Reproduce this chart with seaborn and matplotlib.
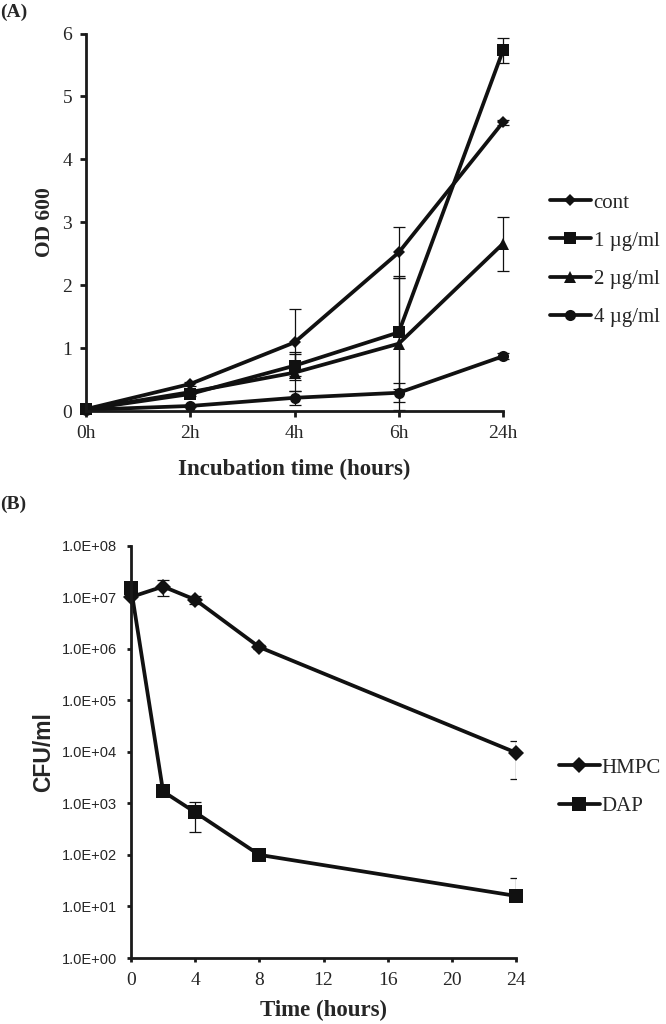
import numpy as np
import pandas as pd
import matplotlib
matplotlib.use("Agg")
import matplotlib.pyplot as plt
import seaborn as sns

# ---------------- data: panel A ----------------
time_labels_a = ["0h", "2h", "4h", "6h", "24h"]
series_a = ["cont", "1 \u00b5g/ml", "2 \u00b5g/ml", "4 \u00b5g/ml"]
od_cont = [0.03, 0.43, 1.09, 2.52, 4.59]
od_1 = [0.03, 0.27, 0.72, 1.25, 5.73]
od_2 = [0.03, 0.30, 0.61, 1.07, 2.66]
od_4 = [0.02, 0.08, 0.21, 0.29, 0.87]
err_cont = [0.01, 0.03, 0.53, 0.40, 0.04]
err_1 = [0.01, 0.03, 0.22, 0.90, 0.20]
err_2 = [0.01, 0.03, 0.30, 1.05, 0.43]
err_4 = [0.01, 0.02, 0.11, 0.15, 0.05]

# ---------------- data: panel B ----------------
time_b = [0, 2, 4, 8, 24]
series_b = ["HMPC", "DAP"]
cfu_hmpc = [1.0e7, 1.6e7, 8.9e6, 1.07e6, 9.6e3]
cfu_dap = [1.5e7, 1.7e3, 6.7e2, 1.0e2, 1.6e1]
err_hmpc_lo = [0.0, 5.5e6, 1.5e6, 1.0e5, 6.6e3]
err_hmpc_hi = [0.0, 5.5e6, 1.5e6, 1.0e5, 6.6e3]
err_dap_lo = [0.0, 1.0e2, 3.9e2, 5.0, 0.0]
err_dap_hi = [0.0, 1.0e2, 3.9e2, 5.0, 1.9e1]
ytick_b = [1e0, 1e1, 1e2, 1e3, 1e4, 1e5, 1e6, 1e7, 1e8]
ytick_b_labels = ["1.0E+00", "1.0E+01", "1.0E+02", "1.0E+03", "1.0E+04",
                  "1.0E+05", "1.0E+06", "1.0E+07", "1.0E+08"]
xtick_b = [0, 4, 8, 12, 16, 20, 24]

sns.set_style("ticks")
plt.rcParams["font.family"] = ["Liberation Serif", "DejaVu Serif"]
plt.rcParams["mathtext.fontset"] = "stix"

SERIF = ["Liberation Serif", "DejaVu Serif"]
SANS = ["Liberation Sans", "DejaVu Sans"]

fig = plt.figure(figsize=(6.66, 10.24), dpi=100)
W, H = 666, 1024

def add_axes_px(l, t, r, b):
    return fig.add_axes([l / W, 1 - b / H, (r - l) / W, (b - t) / H])

LW = 2.7
SPW = 2.0

def style_axes(ax):
    sns.despine(ax=ax)
    for s in ["left", "bottom"]:
        ax.spines[s].set_linewidth(SPW)
        ax.spines[s].set_color("#1a1a1a")
    ax.tick_params(direction="out", width=SPW, length=4, color="#1a1a1a")

# ================= Panel A =================
axA = add_axes_px(86, 33.5, 503, 411)
pos_a = np.arange(len(time_labels_a))
vals_a = [od_cont, od_1, od_2, od_4]
errs_a = [err_cont, err_1, err_2, err_4]
markers_a = ["D", "s", "^", "o"]
msizes_a = [6.5, 8.5, 8.5, 8]
handles_a = []
for name, v, e, m, ms in zip(series_a, vals_a, errs_a, markers_a, msizes_a):
    df = pd.DataFrame({"t": pos_a, "v": v})
    sns.lineplot(data=df, x="t", y="v", ax=axA, color="#111111", lw=LW,
                 marker=m, markersize=ms, markeredgewidth=0, label=name,
                 clip_on=False, legend=False)
    axA.errorbar(pos_a, v, yerr=e, fmt="none", ecolor="#111111",
                 elinewidth=0.9, capsize=4.5, capthick=0.9, clip_on=False)
    handles_a.append(plt.Line2D([], [], color="#111111", lw=LW, marker=m,
                                markersize=ms, markeredgewidth=0))
axA.set_xlim(0, len(time_labels_a) - 1)
axA.set_ylim(0, 6)
axA.set_xticks(pos_a)
axA.set_xticklabels(time_labels_a, fontsize=14, family=SERIF)
axA.set_yticks(range(0, 7))
axA.set_yticklabels([str(i) for i in range(0, 7)], fontsize=14, family=SERIF)
style_axes(axA)
axA.tick_params(axis="both", pad=6)
axA.set_xlabel("Incubation time (hours)", fontsize=16.5, fontweight="bold",
               family=SERIF, labelpad=12)
axA.set_ylabel("OD 600", fontsize=15.5, fontweight="bold", family=SERIF,
               labelpad=5)
fig.legend(handles_a, series_a, loc="center left",
           bbox_to_anchor=(550 / W, 1 - 260 / H), bbox_transform=fig.transFigure,
           frameon=False, prop={"family": SERIF, "size": 15},
           handlelength=1.95, handletextpad=0.15, labelspacing=0.89,
           borderpad=0, borderaxespad=0)

fig.text(0 / W, 1 - 12 / H, "(A)", fontsize=14, fontweight="bold",
         family=SERIF, va="center", ha="left")

# ================= Panel B =================
axB = add_axes_px(131, 545.5, 516, 958)
vals_b = [cfu_hmpc, cfu_dap]
errs_b = [[err_hmpc_lo, err_hmpc_hi], [err_dap_lo, err_dap_hi]]
markers_b = ["D", "s"]
msizes_b = [8.5, 10]
handles_b = []
for name, v, e, m, ms in zip(series_b, vals_b, errs_b, markers_b, msizes_b):
    df = pd.DataFrame({"t": time_b, "v": v})
    sns.lineplot(data=df, x="t", y="v", ax=axB, color="#111111", lw=LW,
                 marker=m, markersize=ms, markeredgewidth=0, label=name,
                 clip_on=False, legend=False)
    axB.errorbar(time_b, v, yerr=e, fmt="none", ecolor="#111111",
                 elinewidth=0.9, capsize=4.5, capthick=0.9)
    handles_b.append(plt.Line2D([], [], color="#111111", lw=LW, marker=m,
                                markersize=ms, markeredgewidth=0))
axB.set_yscale("log")
axB.set_xlim(0, 24)
axB.set_ylim(1, 1e8)
axB.set_xticks(xtick_b)
axB.set_xticklabels([str(t) for t in xtick_b], fontsize=14, family=SERIF)
axB.set_yticks(ytick_b)
axB.set_yticklabels(ytick_b_labels, fontsize=10.5, family=SANS)
axB.yaxis.set_minor_locator(matplotlib.ticker.NullLocator())
style_axes(axB)
axB.tick_params(axis="both", length=3, pad=7)
axB.set_xlabel("Time (hours)", fontsize=16.5, fontweight="bold",
               family=SERIF, labelpad=8)
axB.set_ylabel("CFU/ml", fontsize=16.5, fontweight="bold", family=SANS,
               labelpad=5)
fig.legend(handles_b, series_b, loc="center left",
           bbox_to_anchor=(559 / W, 1 - 787 / H), bbox_transform=fig.transFigure,
           frameon=False, prop={"family": SERIF, "size": 15},
           handlelength=1.95, handletextpad=0.1, labelspacing=0.89,
           borderpad=0, borderaxespad=0)

fig.text(0 / W, 1 - 504 / H, "(B)", fontsize=14, fontweight="bold",
         family=SERIF, va="center", ha="left")

fig.savefig("out.png", dpi=100)
